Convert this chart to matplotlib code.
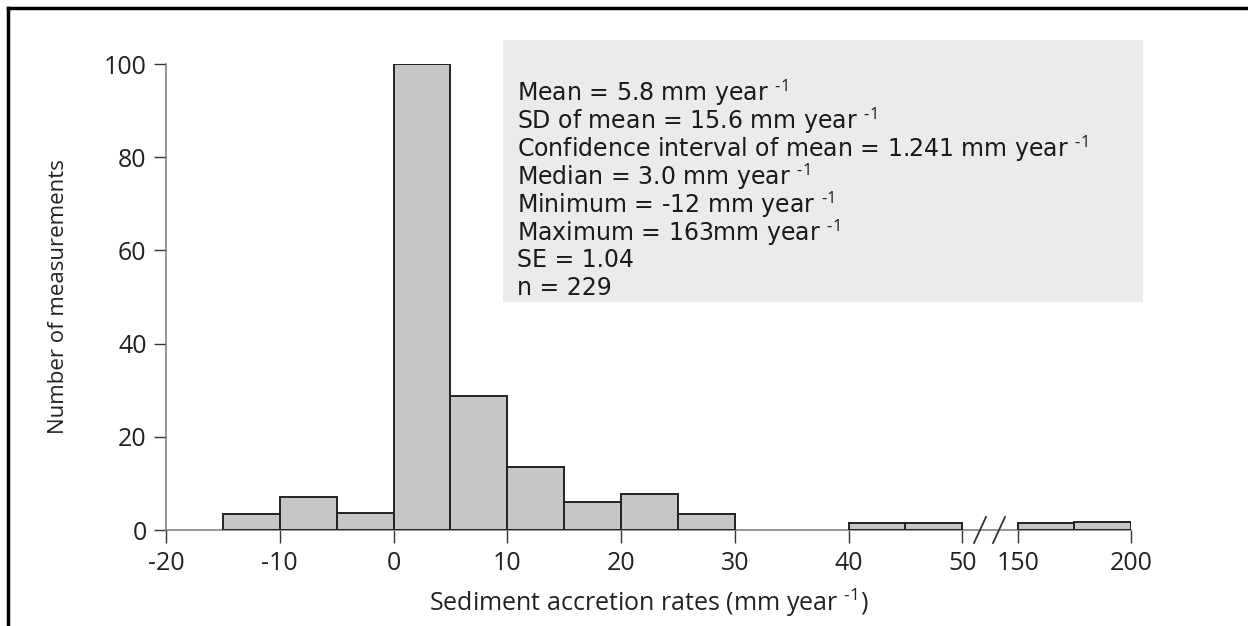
import matplotlib
matplotlib.use("Agg")
import matplotlib.pyplot as plt
from matplotlib.lines import Line2D
from matplotlib.patches import Rectangle
import numpy as np

plt.rcParams['font.family'] = ['Open Sans', 'DejaVu Sans']
plt.rcParams['mathtext.fontset'] = 'custom'
plt.rcParams['mathtext.rm'] = 'Open Sans'
plt.rcParams['mathtext.it'] = 'Open Sans'

# histogram bins (mm/year) and counts
bin_left = [-15, -10, -5, 0, 5, 10, 15, 20, 25, 40, 45, 150, 175]
bin_width = [5, 5, 5, 5, 5, 5, 5, 5, 5, 5, 5, 25, 25]
counts = [3.5, 7, 3.7, 100, 28.7, 13.5, 6, 7.7, 3.5, 1.5, 1.5, 1.5, 1.7]

xticks = [-20, -10, 0, 10, 20, 30, 40, 50, 150, 200]
yticks = [0, 20, 40, 60, 80, 100]

SUP = " $^{\u2010 1}$"
stats = [
    "Mean = 5.8 mm year" + SUP,
    "SD of mean = 15.6 mm year" + SUP,
    "Confidence interval of mean = 1.241 mm year" + SUP,
    "Median = 3.0 mm year" + SUP,
    "Minimum = -12 mm year" + SUP,
    "Maximum = 163mm year" + SUP,
    "SE = 1.04",
    "n = 229",
]

# broken x axis: 50..150 squeezed, 150..200 compressed
GAP = 55.7 / 11.376 / 100
RIGHT = 112.7 / 11.376 / 50


def fwd(x):
    x = np.asarray(x, dtype=float)
    return np.where(x <= 50, x,
                    np.where(x <= 150, 50 + (x - 50) * GAP,
                             50 + 100 * GAP + (x - 150) * RIGHT))


def inv(u):
    u = np.asarray(u, dtype=float)
    b = 50 + 100 * GAP
    return np.where(u <= 50, u,
                    np.where(u <= b, 50 + (u - 50) / GAP,
                             150 + (u - b) / RIGHT))


W, H = 1248, 626
fig = plt.figure(figsize=(W / 100, H / 100), dpi=100)
ax = fig.add_axes([166 / W, (H - 530) / H, (1130.7 - 166) / W, (530 - 64) / H])
ax.set_xscale('function', functions=(fwd, inv))

ax.bar(bin_left, counts, width=bin_width, align='edge',
       color='#c6c6c6', edgecolor='#222222', linewidth=1.4, zorder=3)

ax.set_xlim(-20, 200)
ax.set_ylim(0, 100)
ax.set_xticks(xticks)
ax.set_xticklabels([str(t) for t in xticks])
ax.set_yticks(yticks)
ax.xaxis.set_minor_locator(matplotlib.ticker.NullLocator())

for s in ['top', 'right']:
    ax.spines[s].set_visible(False)
for s in ['left', 'bottom']:
    ax.spines[s].set_color('#7a7a7a')
    ax.spines[s].set_linewidth(1.1)
ax.tick_params(axis='both', direction='out', length=9, width=1.0,
               color='#333333', labelsize=18, labelcolor='#222222')
ax.tick_params(axis='x', pad=6)
ax.tick_params(axis='y', pad=5)

ax.set_ylabel("Number of measurements", fontsize=16, color='#222222', labelpad=25)
ax.set_xlabel("Sediment accretion rates (mm year" + SUP + ")", fontsize=18,
              color='#222222', labelpad=8)

# break marks
for px in (974, 993):
    x0 = (px - 166) / (1130.7 - 166)
    x1 = (px + 12 - 166) / (1130.7 - 166)
    ax.add_line(Line2D([x0, x1], [-13 / 466, 13 / 466], transform=ax.transAxes,
                       color='#333333', linewidth=1.3, clip_on=False, zorder=5))

# statistics box
fig.add_artist(Rectangle((503 / W, (H - 302) / H), 640 / W, 262 / H,
                         transform=fig.transFigure, facecolor='#ebebeb',
                         edgecolor='none', zorder=1))
for i, line in enumerate(stats):
    fig.text(517 / W, (H - 93 - i * 27.9) / H, line, fontsize=17,
             family=['DejaVu Sans'], color='#1a1a1a', va='center', ha='left',
             zorder=2)

# image frame (top and left only)
fig.add_artist(Line2D([8 / W, 1], [(H - 8) / H, (H - 8) / H],
                      transform=fig.transFigure, color='black', linewidth=2.5))
fig.add_artist(Line2D([8 / W, 8 / W], [0, (H - 8) / H],
                      transform=fig.transFigure, color='black', linewidth=2.5))

fig.savefig("out.png", dpi=100)
